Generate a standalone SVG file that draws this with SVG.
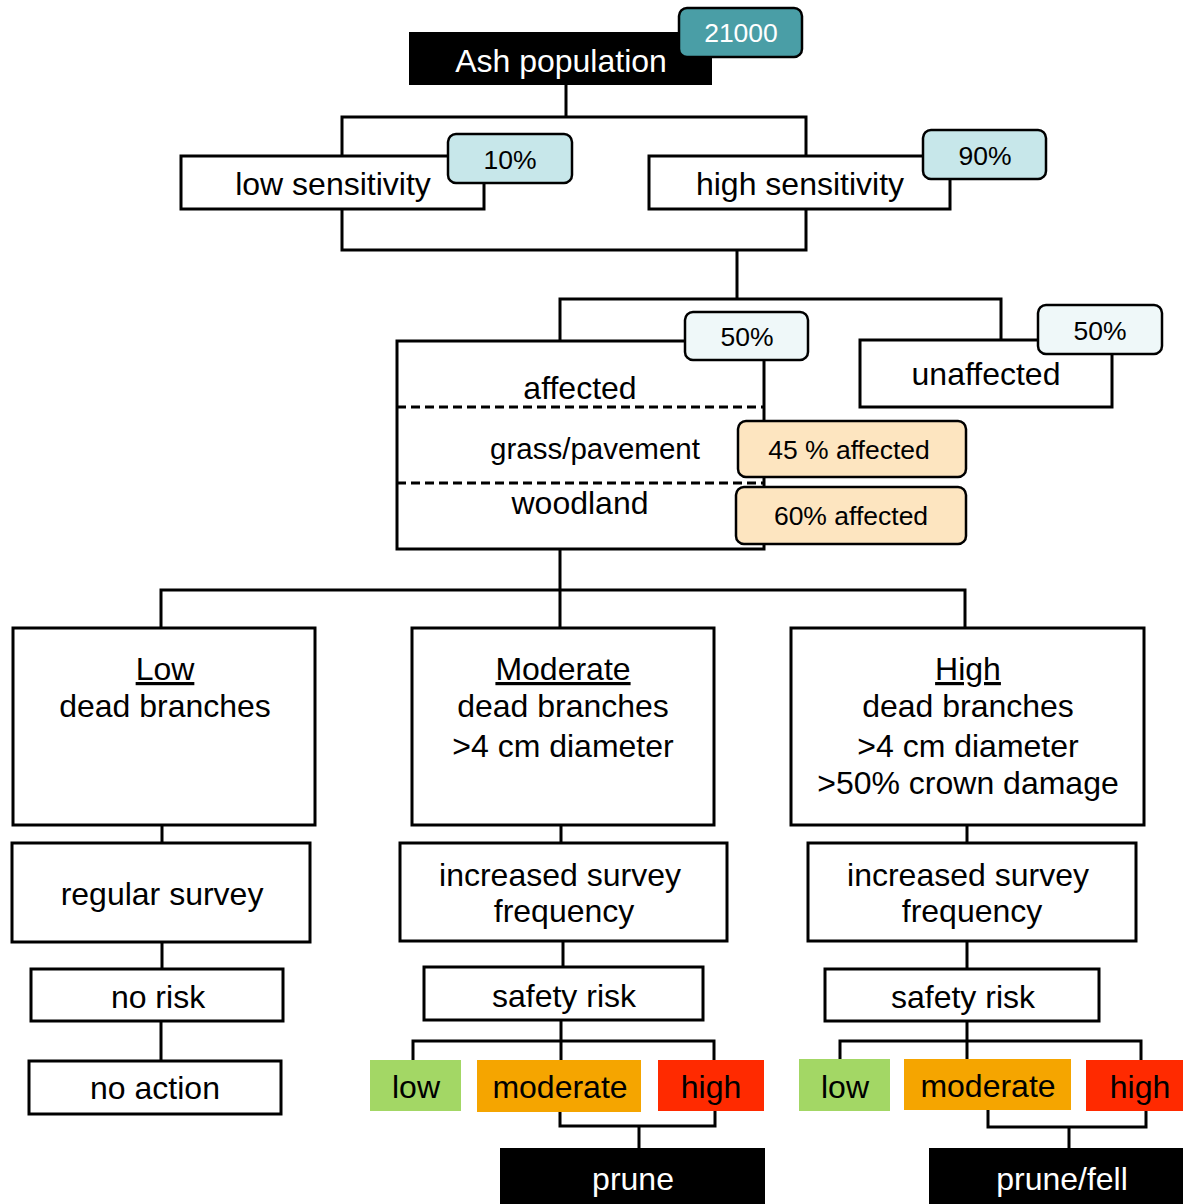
<svg xmlns="http://www.w3.org/2000/svg" width="1183" height="1204" viewBox="0 0 1183 1204">
<style>
text{font-family:"Liberation Sans",Arial,sans-serif;font-size:32px;fill:#000;text-anchor:middle}
.box{fill:#fff;stroke:#000;stroke-width:3}
.blk{fill:#000}
.wt{fill:#fff}
.badge{stroke:#000;stroke-width:2.5}
.b{font-size:26.5px}
.s{font-size:29.5px}
.dash{stroke:#000;stroke-width:3;stroke-dasharray:9 5;fill:none}
#connectors path{fill:none;stroke:#000;stroke-width:3}
.u{text-decoration:underline}
</style>
<rect width="1183" height="1204" fill="#fff"/>
<g id="connectors">
<path d="M566,85V117M342,156V117H806V156"/>
<path d="M342,209V250H806V209M737,250V299M560,341V299H1001V341"/>
<path d="M560,549V590M161,628V590H965V628M560,590V628"/>
<path d="M162,825V843M561,825V843M967,825V843"/>
<path d="M162,942V969M563,941V967M967,941V969M161,1021V1061"/>
<path d="M561,1020V1041M413,1060V1041H714V1060M561,1041V1060"/>
<path d="M560,1112V1126H715V1111M639,1126V1148"/>
<path d="M967,1021V1041M840,1059V1041H1141V1060M967,1041V1059"/>
<path d="M988,1110V1127H1146V1111M1069,1127V1148"/>
</g>
<g id="ash">
<rect class="blk" x="409" y="32" width="303" height="53"/>
<text class="wt" x="561" y="72">Ash population</text>
</g>
<g id="badge-21000">
<rect class="badge" x="679" y="8" width="123" height="49" rx="8" fill="#4a9ea6"/>
<text class="b wt" x="741" y="42">21000</text>
</g>
<g id="low-sens">
<rect class="box" x="181" y="156" width="303" height="53"/>
<text x="333" y="195">low sensitivity</text>
</g>
<g id="badge-10">
<rect class="badge" x="448" y="134" width="124" height="49" rx="8" fill="#c7e7ea"/>
<text class="b" x="510" y="169">10%</text>
</g>
<g id="high-sens">
<rect class="box" x="649" y="156" width="301" height="53"/>
<text x="800" y="195">high sensitivity</text>
</g>
<g id="badge-90">
<rect class="badge" x="923" y="130" width="123" height="49" rx="8" fill="#c7e7ea"/>
<text class="b" x="985" y="165">90%</text>
</g>
<g id="affected">
<rect class="box" x="397" y="341" width="367" height="208"/>
<line class="dash" x1="397" y1="407" x2="764" y2="407"/>
<line class="dash" x1="397" y1="483" x2="764" y2="483"/>
<text x="580" y="399">affected</text>
<text class="s" x="595" y="459">grass/pavement</text>
<text x="580" y="514">woodland</text>
</g>
<g id="badge-50a">
<rect class="badge" x="685" y="312" width="123" height="48" rx="8" fill="#eff8f9"/>
<text class="b" x="747" y="346">50%</text>
</g>
<g id="unaffected">
<rect class="box" x="860" y="340" width="252" height="67"/>
<text x="986" y="385">unaffected</text>
</g>
<g id="badge-50b">
<rect class="badge" x="1038" y="305" width="124" height="49" rx="8" fill="#eff8f9"/>
<text class="b" x="1100" y="340">50%</text>
</g>
<g id="grass-pct">
<rect class="badge" x="738" y="421" width="228" height="56" rx="8" fill="#fde5c0"/>
<text class="b" x="849" y="459">45 % affected</text>
</g>
<g id="wood-pct">
<rect class="badge" x="736" y="487" width="230" height="57" rx="8" fill="#fde5c0"/>
<text class="b" x="851" y="525">60% affected</text>
</g>
<g id="low-dead">
<rect class="box" x="13" y="628" width="302" height="197"/>
<text x="165" y="680" class="u">Low</text>
<text x="165" y="717">dead branches</text>
</g>
<g id="mod-dead">
<rect class="box" x="412" y="628" width="302" height="197"/>
<text x="563" y="680" class="u">Moderate</text>
<text x="563" y="717">dead branches</text>
<text x="563" y="757">&gt;4 cm diameter</text>
</g>
<g id="high-dead">
<rect class="box" x="791" y="628" width="353" height="197"/>
<text x="968" y="680" class="u">High</text>
<text x="968" y="717">dead branches</text>
<text x="968" y="757">&gt;4 cm diameter</text>
<text x="968" y="794">&gt;50% crown damage</text>
</g>
<g id="regular-survey">
<rect class="box" x="12" y="843" width="298" height="99"/>
<text x="162" y="905">regular survey</text>
</g>
<g id="inc-survey-mid">
<rect class="box" x="400" y="843" width="327" height="98"/>
<text x="560" y="886">increased survey</text>
<text x="564" y="922">frequency</text>
</g>
<g id="inc-survey-right">
<rect class="box" x="808" y="843" width="328" height="98"/>
<text x="968" y="886">increased survey</text>
<text x="972" y="922">frequency</text>
</g>
<g id="no-risk">
<rect class="box" x="31" y="969" width="252" height="52"/>
<text x="158" y="1008">no risk</text>
</g>
<g id="safety-mid">
<rect class="box" x="424" y="967" width="279" height="53"/>
<text x="564" y="1007">safety risk</text>
</g>
<g id="safety-right">
<rect class="box" x="825" y="969" width="274" height="52"/>
<text x="963" y="1008">safety risk</text>
</g>
<g id="no-action">
<rect class="box" x="29" y="1061" width="252" height="53"/>
<text x="155" y="1099">no action</text>
</g>
<g id="mid-low">
<rect x="370" y="1060" width="91" height="51" fill="#a3d765"/>
<text x="416" y="1098">low</text>
</g>
<g id="mid-moderate">
<rect x="477" y="1060" width="164" height="52" fill="#f5a500"/>
<text x="560" y="1098">moderate</text>
</g>
<g id="mid-high">
<rect x="658" y="1060" width="106" height="51" fill="#ff2a00"/>
<text x="711" y="1098">high</text>
</g>
<g id="prune">
<rect class="blk" x="500" y="1148" width="265" height="56"/>
<text class="wt" x="633" y="1190">prune</text>
</g>
<g id="right-low">
<rect x="799" y="1059" width="91" height="52" fill="#a3d765"/>
<text x="845" y="1098">low</text>
</g>
<g id="right-moderate">
<rect x="904" y="1059" width="167" height="51" fill="#f5a500"/>
<text x="988" y="1097">moderate</text>
</g>
<g id="right-high">
<rect x="1086" y="1060" width="97" height="51" fill="#ff2a00"/>
<text x="1140" y="1098">high</text>
</g>
<g id="prune-fell">
<rect class="blk" x="929" y="1148" width="254" height="56"/>
<text class="wt" x="1062" y="1190">prune/fell</text>
</g>
</svg>
